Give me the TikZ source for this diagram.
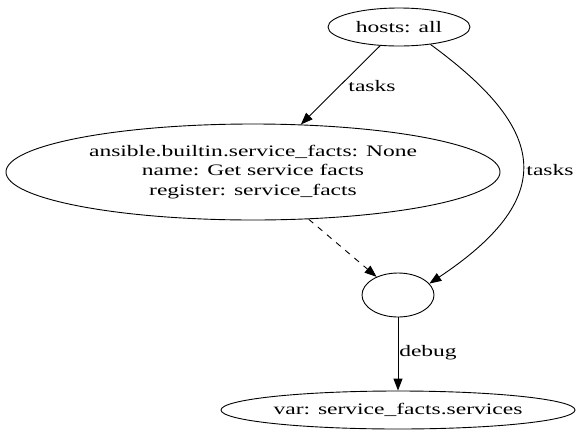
\documentclass[tikz,border=0pt]{standalone}
\usepackage{fontspec}
\setmainfont[FakeStretch=1.47]{Liberation Serif}
\usetikzlibrary{shapes.geometric,arrows.meta}
\tikzset{
  gnode/.style={draw, ellipse, inner sep=0pt, line width=0.9pt, align=center},
  gedge/.style={line width=0.9pt, -{Triangle[length=12pt,width=9pt]}},
  glabel/.style={inner sep=0pt, font=\fontsize{16}{19.5}\selectfont}
}
\begin{document}
\begin{tikzpicture}[x=1pt,y=-1pt, every node/.style={font=\fontsize{16}{19.5}\selectfont}]
\useasboundingbox (0,0) rectangle (582,440);
\node[gnode, minimum width=142pt, minimum height=38pt] (hosts) at (399,27) {hosts: all};
\node[gnode, minimum width=494pt, minimum height=96pt] (task) at (253,172) {ansible.builtin.service\_facts: None\\name: Get service facts\\register: service\_facts};
\node[gnode, minimum width=72pt, minimum height=44pt] (join) at (398,295) {};
\node[gnode, minimum width=354pt, minimum height=38pt] (var) at (398,410) {var: service\_facts.services};
\draw[gedge] (hosts) -- (task);
\node[glabel] (l1) at (372,86) {tasks};
\draw[gedge] (hosts.-29) .. controls (542,126) and (564,194) .. (join.20);
\node[glabel] (l2) at (550,170) {tasks};
\draw[gedge, dash pattern=on 6pt off 6pt] (task) -- (join);
\draw[gedge] (join) -- (var);
\node[glabel] (l3) at (428,353) {debug};
\end{tikzpicture}
\end{document}
